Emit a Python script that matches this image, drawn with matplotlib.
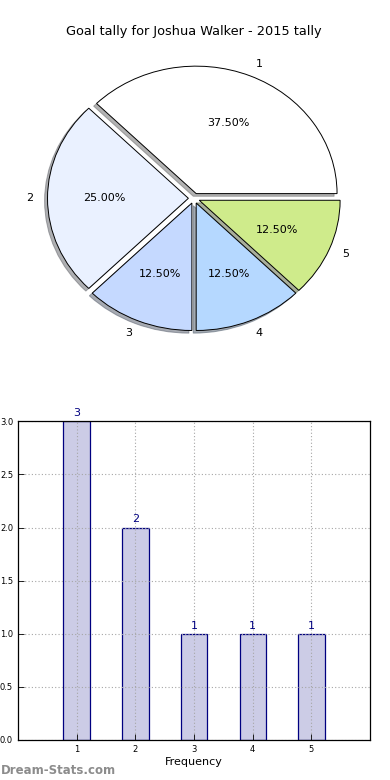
import numpy as np
import matplotlib
matplotlib.use("Agg")
import matplotlib.pyplot as plt

# data
labels = ["1", "2", "3", "4", "5"]
goals = [3, 2, 1, 1, 1]
pie_colors = ["#FFFFFF", "#EAF1FF", "#C5D9FF", "#B5D8FF", "#CFEB8B"]
explode = [0.04, 0.04, 0.04, 0.04, 0.04]

fig = plt.figure(figsize=(3.9, 7.8), dpi=100)
plt.subplots_adjust(left=0.046, right=0.949, bottom=0.0513, top=0.95, hspace=0.2)

# pie
ax1 = plt.subplot(211)
ax1.pie(goals, labels=labels, colors=pie_colors, explode=explode,
        autopct="%1.2f%%", shadow={"ox": -0.015, "oy": -0.015, "shade": 0.6},
        startangle=0,
        wedgeprops=dict(edgecolor="black", linewidth=0.7),
        textprops=dict(fontsize=8))
ax1.set_aspect("auto")
ax1.set_xlim(-1.25, 1.25)
ax1.set_ylim(-1.25, 1.25)
ax1.set_title("Goal tally for Joshua Walker - 2015 tally", fontsize=9.3, pad=3)

# bars
ax2 = plt.subplot(212)
x = np.arange(1, len(goals) + 1)
bars = ax2.bar(x, goals, width=0.45, color="#CCCCE6", edgecolor="#000080", linewidth=0.9)
for b, v in zip(bars, goals):
    ax2.text(b.get_x() + b.get_width() / 2, v + 0.03, str(v), ha="center", va="bottom",
             fontsize=8, color="#000080")
ax2.set_xlim(0, 6)
ax2.set_ylim(0, 3)
ax2.set_xticks(x)
ax2.set_xticklabels(labels)
ax2.set_yticks(np.arange(0, 3.01, 0.5))
ax2.tick_params(labelsize=6, direction="in", length=4, width=0.6)
ax2.set_axisbelow(False)
ax2.grid(True, color="0.65", linestyle=(0, (1, 2)), linewidth=0.8)
for s in ax2.spines.values():
    s.set_linewidth(0.9)
    s.set_zorder(5)
ax2.set_xlabel("Frequency", fontsize=8, labelpad=2)

fig.text(0.002, 0.012, "Dream-Stats.com", fontsize=8.5, color="0.55",
         fontweight="bold", ha="left", va="center")

plt.savefig("out.png", dpi=100)
